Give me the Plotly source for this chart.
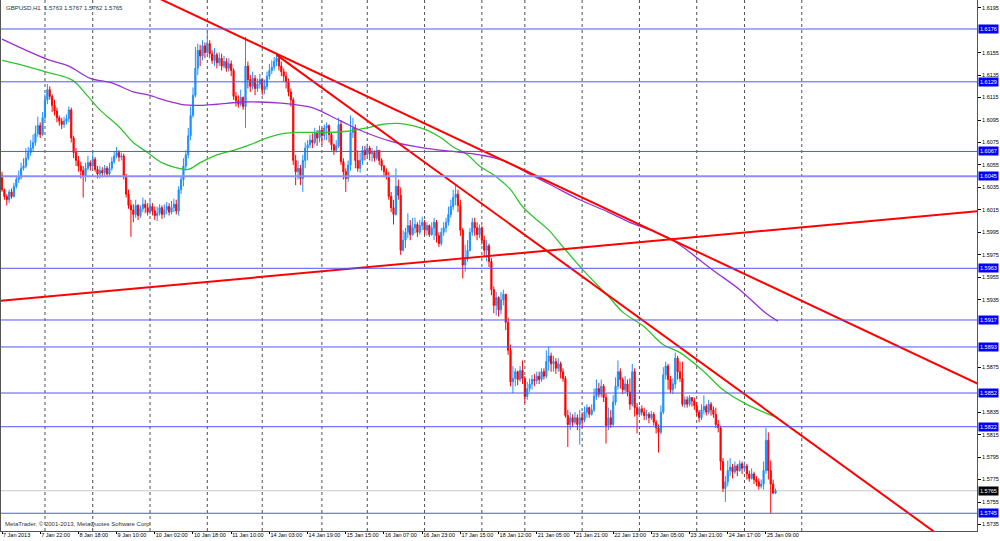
import plotly.graph_objects as go

# GBPUSD H1 bars, 7 Jan 2013 - 25 Jan 2013 (bar index on x)
first_open = 1.6046
close = [
    1.6033, 1.6027, 1.6024, 1.6031, 1.6027, 1.6036, 1.6042, 1.6044, 1.6052, 1.6054,
    1.6061, 1.6066, 1.6070, 1.6075, 1.6083, 1.6090, 1.6082, 1.6097, 1.6113, 1.6122,
    1.6116, 1.6108, 1.6103, 1.6097, 1.6094, 1.6091, 1.6094, 1.6096, 1.6104, 1.6079,
    1.6066, 1.6059, 1.6054, 1.6050, 1.6045, 1.6052, 1.6057, 1.6054, 1.6060, 1.6051,
    1.6047, 1.6050, 1.6048, 1.6052, 1.6047, 1.6052, 1.6058, 1.6063, 1.6066, 1.6062,
    1.6063, 1.6045, 1.6029, 1.6019, 1.6015, 1.6011, 1.6019, 1.6010, 1.6016, 1.6020,
    1.6017, 1.6013, 1.6018, 1.6014, 1.6010, 1.6012, 1.6017, 1.6011, 1.6015, 1.6018,
    1.6013, 1.6017, 1.6020, 1.6014, 1.6033, 1.6042, 1.6054, 1.6064, 1.6081, 1.6099,
    1.6117, 1.6141, 1.6157, 1.6152, 1.6161, 1.6155, 1.6163, 1.6154, 1.6148, 1.6153,
    1.6146, 1.6150, 1.6143, 1.6147, 1.6141, 1.6145, 1.6139, 1.6116, 1.6112, 1.6109,
    1.6115, 1.6107, 1.6143, 1.6131, 1.6125, 1.6132, 1.6123, 1.6127, 1.6131, 1.6122,
    1.6125, 1.6134, 1.6139, 1.6142, 1.6147, 1.6150, 1.6143, 1.6138, 1.6134, 1.6129,
    1.6120, 1.6113, 1.6059, 1.6049, 1.6052, 1.6043, 1.6059, 1.6070, 1.6073, 1.6077,
    1.6075, 1.6083, 1.6079, 1.6086, 1.6081, 1.6088, 1.6090, 1.6082, 1.6073, 1.6068,
    1.6072, 1.6091, 1.6058, 1.6049, 1.6043, 1.6055, 1.6084, 1.6088, 1.6059, 1.6052,
    1.6059, 1.6068, 1.6064, 1.6070, 1.6065, 1.6066, 1.6061, 1.6068, 1.6059, 1.6054,
    1.6049, 1.6045, 1.6027, 1.6017, 1.6011, 1.6036, 1.6028, 1.5979, 1.5988, 1.5995,
    1.6001, 1.5993, 1.5999, 1.6002, 1.5995, 1.6001, 1.6004, 1.5997, 1.6001, 1.5993,
    1.5999, 1.6004, 1.5992, 1.5985, 1.5995, 1.5999, 1.6004, 1.6011, 1.6018, 1.6026,
    1.6029, 1.6019, 1.5997, 1.5966, 1.5972, 1.5979, 1.5995, 1.6004, 1.5999, 1.5993,
    1.5999, 1.5988, 1.5979, 1.5983, 1.5969, 1.5944, 1.5930, 1.5937, 1.5926, 1.5935,
    1.5940, 1.5915, 1.5890, 1.5862, 1.5865, 1.5871, 1.5864, 1.5872, 1.5865, 1.5849,
    1.5856, 1.5860, 1.5864, 1.5863, 1.5867, 1.5864, 1.5871, 1.5867, 1.5880, 1.5885,
    1.5878, 1.5880, 1.5874, 1.5878, 1.5871, 1.5865, 1.5832, 1.5824, 1.5830, 1.5826,
    1.5830, 1.5824, 1.5830, 1.5828, 1.5835, 1.5839, 1.5833, 1.5837, 1.5849, 1.5856,
    1.5851, 1.5858, 1.5848, 1.5823, 1.5830, 1.5824, 1.5844, 1.5858, 1.5871, 1.5864,
    1.5855, 1.5860, 1.5853, 1.5842, 1.5871, 1.5839, 1.5833, 1.5838, 1.5835, 1.5832,
    1.5833, 1.5830, 1.5833, 1.5826, 1.5821, 1.5817, 1.5835, 1.5868, 1.5876, 1.5864,
    1.5855, 1.5860, 1.5883, 1.5871, 1.5865, 1.5842, 1.5846, 1.5842, 1.5848, 1.5845,
    1.5841, 1.5835, 1.5830, 1.5837, 1.5840, 1.5835, 1.5842, 1.5837, 1.5833, 1.5824,
    1.5821, 1.5791, 1.5767, 1.5773, 1.5783, 1.5786, 1.5782, 1.5787, 1.5783, 1.5789,
    1.5785, 1.5787, 1.5780, 1.5776, 1.5780, 1.5775, 1.5773, 1.5769, 1.5771, 1.5783,
    1.5810, 1.5783, 1.5771, 1.5763, 1.5765,
]
high = [
    1.6049, 1.6034, 1.6029, 1.6033, 1.6034, 1.6039, 1.6045, 1.6050, 1.6057, 1.6061,
    1.6070, 1.6071, 1.6077, 1.6082, 1.6090, 1.6098, 1.6093, 1.6102, 1.6118, 1.6127,
    1.6125, 1.6118, 1.6113, 1.6106, 1.6099, 1.6097, 1.6098, 1.6100, 1.6107, 1.6106,
    1.6081, 1.6070, 1.6063, 1.6058, 1.6054, 1.6057, 1.6063, 1.6059, 1.6066, 1.6062,
    1.6054, 1.6054, 1.6053, 1.6055, 1.6054, 1.6057, 1.6062, 1.6067, 1.6071, 1.6068,
    1.6066, 1.6065, 1.6047, 1.6033, 1.6024, 1.6020, 1.6024, 1.6020, 1.6019, 1.6026,
    1.6024, 1.6021, 1.6023, 1.6021, 1.6018, 1.6018, 1.6020, 1.6019, 1.6020, 1.6022,
    1.6021, 1.6023, 1.6025, 1.6024, 1.6036, 1.6045, 1.6061, 1.6068, 1.6088, 1.6107,
    1.6124, 1.6160, 1.6163, 1.6162, 1.6166, 1.6164, 1.6175, 1.6166, 1.6157, 1.6159,
    1.6155, 1.6155, 1.6154, 1.6152, 1.6150, 1.6150, 1.6148, 1.6141, 1.6120, 1.6117,
    1.6122, 1.6116, 1.6169, 1.6147, 1.6135, 1.6138, 1.6135, 1.6132, 1.6136, 1.6132,
    1.6131, 1.6138, 1.6145, 1.6148, 1.6151, 1.6154, 1.6152, 1.6147, 1.6141, 1.6138,
    1.6132, 1.6123, 1.6115, 1.6064, 1.6059, 1.6055, 1.6064, 1.6075, 1.6077, 1.6082,
    1.6083, 1.6088, 1.6086, 1.6090, 1.6088, 1.6091, 1.6093, 1.6091, 1.6084, 1.6074,
    1.6077, 1.6097, 1.6095, 1.6061, 1.6052, 1.6059, 1.6099, 1.6097, 1.6091, 1.6068,
    1.6066, 1.6072, 1.6072, 1.6074, 1.6072, 1.6070, 1.6068, 1.6072, 1.6068, 1.6061,
    1.6055, 1.6052, 1.6049, 1.6031, 1.6024, 1.6052, 1.6042, 1.6035, 1.5997, 1.5999,
    1.6012, 1.6006, 1.6008, 1.6008, 1.6004, 1.6006, 1.6009, 1.6006, 1.6004, 1.6002,
    1.6004, 1.6008, 1.6006, 1.5995, 1.5999, 1.6004, 1.6008, 1.6018, 1.6024, 1.6033,
    1.6037, 1.6033, 1.6024, 1.5999, 1.5984, 1.5988, 1.5999, 1.6008, 1.6008, 1.6004,
    1.6002, 1.6001, 1.5992, 1.5988, 1.5985, 1.5972, 1.5947, 1.5942, 1.5938, 1.5942,
    1.5944, 1.5940, 1.5919, 1.5895, 1.5876, 1.5874, 1.5872, 1.5876, 1.5881, 1.5867,
    1.5862, 1.5865, 1.5868, 1.5869, 1.5871, 1.5871, 1.5874, 1.5874, 1.5890, 1.5893,
    1.5888, 1.5885, 1.5883, 1.5883, 1.5880, 1.5874, 1.5867, 1.5837, 1.5835, 1.5833,
    1.5835, 1.5833, 1.5837, 1.5835, 1.5840, 1.5842, 1.5840, 1.5842, 1.5856, 1.5864,
    1.5861, 1.5864, 1.5860, 1.5852, 1.5839, 1.5837, 1.5850, 1.5866, 1.5881, 1.5874,
    1.5866, 1.5867, 1.5864, 1.5865, 1.5878, 1.5874, 1.5843, 1.5840, 1.5841, 1.5839,
    1.5837, 1.5835, 1.5836, 1.5835, 1.5828, 1.5824, 1.5841, 1.5875, 1.5880, 1.5878,
    1.5867, 1.5865, 1.5888, 1.5885, 1.5880, 1.5880, 1.5849, 1.5849, 1.5850, 1.5848,
    1.5848, 1.5844, 1.5837, 1.5842, 1.5850, 1.5842, 1.5846, 1.5844, 1.5840, 1.5839,
    1.5828, 1.5823, 1.5794, 1.5778, 1.5792, 1.5794, 1.5789, 1.5791, 1.5789, 1.5792,
    1.5791, 1.5791, 1.5789, 1.5783, 1.5785, 1.5782, 1.5778, 1.5776, 1.5775, 1.5791,
    1.5821, 1.5817, 1.5792, 1.5775, 1.5767,
]
low = [
    1.6031, 1.6024, 1.6019, 1.6021, 1.6025, 1.6026, 1.6034, 1.6039, 1.6042, 1.6050,
    1.6052, 1.6059, 1.6063, 1.6067, 1.6072, 1.6080, 1.6079, 1.6081, 1.6095, 1.6109,
    1.6113, 1.6102, 1.6099, 1.6093, 1.6090, 1.6087, 1.6088, 1.6091, 1.6093, 1.6075,
    1.6061, 1.6054, 1.6049, 1.6043, 1.6026, 1.6040, 1.6050, 1.6050, 1.6052, 1.6049,
    1.6043, 1.6043, 1.6044, 1.6045, 1.6044, 1.6045, 1.6050, 1.6056, 1.6061, 1.6058,
    1.6059, 1.6042, 1.6026, 1.6016, 1.5991, 1.6004, 1.6008, 1.6006, 1.6008, 1.6013,
    1.6012, 1.6010, 1.6011, 1.6010, 1.6006, 1.6005, 1.6010, 1.6007, 1.6008, 1.6011,
    1.6010, 1.6011, 1.6013, 1.6011, 1.6010, 1.6029, 1.6036, 1.6050, 1.6061, 1.6077,
    1.6097, 1.6115, 1.6135, 1.6143, 1.6148, 1.6150, 1.6152, 1.6150, 1.6145, 1.6143,
    1.6141, 1.6143, 1.6139, 1.6141, 1.6138, 1.6138, 1.6134, 1.6113, 1.6107, 1.6106,
    1.6107, 1.6104, 1.6088, 1.6123, 1.6120, 1.6122, 1.6117, 1.6120, 1.6123, 1.6117,
    1.6118, 1.6122, 1.6131, 1.6136, 1.6139, 1.6143, 1.6139, 1.6134, 1.6129, 1.6123,
    1.6116, 1.6107, 1.6055, 1.6037, 1.6042, 1.6037, 1.6031, 1.6052, 1.6059, 1.6070,
    1.6070, 1.6073, 1.6072, 1.6075, 1.6073, 1.6077, 1.6077, 1.6075, 1.6068, 1.6064,
    1.6066, 1.6070, 1.6055, 1.6042, 1.6031, 1.6040, 1.6050, 1.6079, 1.6052, 1.6049,
    1.6048, 1.6055, 1.6059, 1.6061, 1.6059, 1.6058, 1.6058, 1.6059, 1.6055, 1.6050,
    1.6044, 1.6042, 1.6024, 1.6013, 1.6002, 1.6010, 1.6024, 1.5975, 1.5978, 1.5981,
    1.5990, 1.5988, 1.5992, 1.5994, 1.5991, 1.5993, 1.5997, 1.5993, 1.5992, 1.5991,
    1.5992, 1.5988, 1.5986, 1.5982, 1.5983, 1.5992, 1.5995, 1.6001, 1.6008, 1.6015,
    1.6019, 1.6013, 1.5992, 1.5954, 1.5960, 1.5969, 1.5978, 1.5992, 1.5992, 1.5988,
    1.5990, 1.5984, 1.5973, 1.5969, 1.5964, 1.5939, 1.5923, 1.5921, 1.5920, 1.5922,
    1.5930, 1.5908, 1.5886, 1.5858, 1.5852, 1.5858, 1.5859, 1.5862, 1.5860, 1.5843,
    1.5846, 1.5853, 1.5855, 1.5858, 1.5860, 1.5860, 1.5862, 1.5864, 1.5865, 1.5872,
    1.5871, 1.5871, 1.5869, 1.5871, 1.5865, 1.5862, 1.5830, 1.5804, 1.5819, 1.5822,
    1.5824, 1.5819, 1.5806, 1.5821, 1.5826, 1.5830, 1.5830, 1.5832, 1.5835, 1.5846,
    1.5848, 1.5848, 1.5844, 1.5807, 1.5819, 1.5821, 1.5822, 1.5841, 1.5855, 1.5856,
    1.5851, 1.5852, 1.5849, 1.5837, 1.5840, 1.5831, 1.5816, 1.5831, 1.5832, 1.5828,
    1.5828, 1.5825, 1.5828, 1.5823, 1.5816, 1.5799, 1.5815, 1.5833, 1.5864, 1.5855,
    1.5852, 1.5851, 1.5856, 1.5864, 1.5862, 1.5840, 1.5839, 1.5839, 1.5840, 1.5840,
    1.5837, 1.5832, 1.5826, 1.5828, 1.5833, 1.5832, 1.5833, 1.5832, 1.5830, 1.5821,
    1.5817, 1.5783, 1.5764, 1.5755, 1.5769, 1.5778, 1.5776, 1.5780, 1.5778, 1.5782,
    1.5780, 1.5782, 1.5775, 1.5773, 1.5775, 1.5771, 1.5769, 1.5766, 1.5767, 1.5766,
    1.5780, 1.5775, 1.5745, 1.5762, 1.5762,
]
open_ = [first_open] + close[:-1]
bars = list(range(len(close)))

# time scale labels (every 16 bars) and day separators (grid)
label_bars = list(range(0, 321, 16))
label_text = ["7 Jan 2013", "7 Jan 22:00", "8 Jan 18:00", "9 Jan 10:00", "10 Jan 02:00",
              "10 Jan 18:00", "11 Jan 10:00", "14 Jan 03:00", "14 Jan 19:00", "15 Jan 15:00",
              "16 Jan 07:00", "16 Jan 23:00", "17 Jan 15:00", "18 Jan 12:00", "21 Jan 05:00",
              "21 Jan 21:00", "22 Jan 13:00", "23 Jan 05:00", "23 Jan 21:00", "24 Jan 17:00",
              "25 Jan 09:00"]
day_bars = [18, 38, 62, 86, 109, 134, 153, 177, 201, 219, 243, 267, 291, 311, 335]

# price scale labels (those hidden under level boxes are left out)
price_ticks = [1.6195, 1.6155, 1.6135, 1.6115, 1.6095, 1.6075, 1.6055, 1.6035, 1.6015,
               1.5995, 1.5975, 1.5955, 1.5935, 1.5875, 1.5835, 1.5815, 1.5795,
               1.5775, 1.5755, 1.5735]

# moving averages (green = faster, purple = slower)
ma_fast_x = [0, 8, 18, 28, 31, 36, 41, 49, 55, 61, 67, 72, 78, 83, 90, 97, 104, 111, 118, 125,
             135, 145, 153, 159, 166, 172, 178, 184, 189, 195, 200, 206, 213, 218, 223, 229,
             235, 244, 254, 260, 269, 277, 284, 293, 302, 311, 319, 325]
ma_fast = [1.6148, 1.6144, 1.6138, 1.6132, 1.6128, 1.6116, 1.6104, 1.6089, 1.6075, 1.6066,
           1.6057, 1.6053, 1.6051, 1.6057, 1.6064, 1.6068, 1.6073, 1.6079, 1.6083, 1.6084,
           1.6084, 1.6085, 1.6088, 1.6091, 1.6092, 1.6090, 1.6086, 1.6079, 1.6071, 1.6064,
           1.6054, 1.6046, 1.6033, 1.6018, 1.6008, 1.5997, 1.5982, 1.5960, 1.5938, 1.5924,
           1.5911, 1.5895, 1.5888, 1.5873, 1.5855, 1.5843, 1.5835, 1.5830]
ma_slow_x = [0, 19, 28, 37, 46, 55, 62, 66, 75, 83, 90, 101, 108, 117, 125, 130, 142, 151, 163,
             177, 189, 200, 210, 220, 231, 242, 254, 264, 273, 281, 287, 298, 309, 320, 325]
ma_slow = [1.6167, 1.6149, 1.6143, 1.6132, 1.6128, 1.6120, 1.6117, 1.6114, 1.6109, 1.6108,
           1.6109, 1.6111, 1.6111, 1.6110, 1.6108, 1.6106, 1.6094, 1.6085, 1.6076, 1.6070,
           1.6067, 1.6064, 1.6059, 1.6048, 1.6036, 1.6024, 1.6013, 1.6003, 1.5996, 1.5988,
           1.5979, 1.5961, 1.5944, 1.5923, 1.5916]

# trend lines (anchor points)
trend_a_x, trend_a_y = [60, 420], [1.6209, 1.5849]
trend_b_x, trend_b_y = [115, 420], [1.6153, 1.5683]
trend_c_x, trend_c_y = [-1, 420], [1.5934, 1.6016]

# horizontal levels
levels = [1.6176, 1.6129, 1.6067, 1.6045, 1.5963, 1.5917, 1.5893, 1.5852, 1.5822, 1.5745]
bid = 1.5765

FONT = "Liberation Sans"

fig = go.Figure()

fig.add_trace(go.Candlestick(
    x=bars, open=open_, high=high, low=low, close=close,
    increasing=dict(line=dict(color="#1e90ff", width=1), fillcolor="#1e90ff"),
    decreasing=dict(line=dict(color="#ff0000", width=1), fillcolor="#ff0000"),
    whiskerwidth=0, showlegend=False, hoverinfo="skip"))

fig.add_trace(go.Scatter(x=ma_fast_x, y=ma_fast, mode="lines", showlegend=False,
                         hoverinfo="skip",
                         line=dict(color="#2ec52e", width=1.3, shape="spline")))
fig.add_trace(go.Scatter(x=ma_slow_x, y=ma_slow, mode="lines", showlegend=False,
                         hoverinfo="skip",
                         line=dict(color="#9b30d0", width=1.3, shape="spline")))

for tx, ty in [(trend_a_x, trend_a_y), (trend_b_x, trend_b_y), (trend_c_x, trend_c_y)]:
    fig.add_trace(go.Scatter(x=tx, y=ty, mode="lines", showlegend=False, hoverinfo="skip",
                             line=dict(color="#ff0000", width=2)))

shapes = []
for d in day_bars:
    shapes.append(dict(type="line", xref="x", yref="paper", x0=d, x1=d, y0=0, y1=1,
                       line=dict(color="#505050", width=1, dash="dot"), layer="below"))
for lv in levels:
    wide = lv == 1.6045
    shapes.append(dict(type="line", xref="paper", yref="y", x0=0, x1=1, y0=lv, y1=lv,
                       line=dict(color="#8c8cff" if wide else "#5353ff", width=2 if wide else 1),
                       layer="above"))
shapes.append(dict(type="line", xref="paper", yref="y", x0=0, x1=1, y0=bid, y1=bid,
                   line=dict(color="#c8c8c8", width=1), layer="below"))

annotations = []
for lv in levels:
    annotations.append(dict(xref="paper", yref="y", x=1, y=lv, xanchor="left", yanchor="middle",
                            xshift=1, text=f"{lv:.4f}", showarrow=False, bgcolor="#0000ff",
                            borderpad=1, font=dict(family=FONT, size=5.5, color="white")))
annotations.append(dict(xref="paper", yref="y", x=1, y=bid, xanchor="left", yanchor="middle",
                        xshift=1, text=f"{bid:.4f}", showarrow=False, bgcolor="#000000",
                        borderpad=1, font=dict(family=FONT, size=5.5, color="white")))
annotations.append(dict(xref="paper", yref="paper", x=0, y=1, xanchor="left", yanchor="top",
                        xshift=3, yshift=-3, showarrow=False,
                        text="GBPUSD,H1  1.5763 1.5767 1.5762 1.5765",
                        font=dict(family=FONT, size=6, color="#303030")))
annotations.append(dict(xref="paper", yref="paper", x=0, y=0, xanchor="left", yanchor="bottom",
                        xshift=2, yshift=2, showarrow=False,
                        text="MetaTrader, © 2001-2013, MetaQuotes Software Corp.",
                        font=dict(family=FONT, size=6, color="#303030")))

fig.update_layout(
    width=1000, height=541,
    margin=dict(l=1, r=23, t=0, b=10),
    paper_bgcolor="white", plot_bgcolor="white",
    font=dict(family=FONT, size=6, color="black"),
    shapes=shapes, annotations=annotations,
    hovermode=False,
    xaxis=dict(range=[-0.42, 408.4], tickvals=label_bars, ticktext=label_text,
               tickangle=0, automargin=False,
               ticks="outside", ticklen=2, tickcolor="black", ticklabelposition="outside right",
               ticklabelstandoff=-2,
               showgrid=False, zeroline=False, showline=True, linecolor="#555555",
               mirror=True, rangeslider=dict(visible=False),
               tickfont=dict(family=FONT, size=5.5, color="black")),
    yaxis=dict(range=[1.57292, 1.62018], side="right", tickvals=price_ticks,
               tickformat=".4f", automargin=False, ticks="outside", ticklen=3,
               tickcolor="black", showgrid=False, zeroline=False, showline=True,
               linecolor="#555555", mirror=True,
               tickfont=dict(family=FONT, size=5.5, color="black")),
)

# the page body carries a default 8px margin; remove it so the chart fills the window
fig.write_html("out.html", config={"displayModeBar": False},
               post_script="document.body.style.margin='0';")
